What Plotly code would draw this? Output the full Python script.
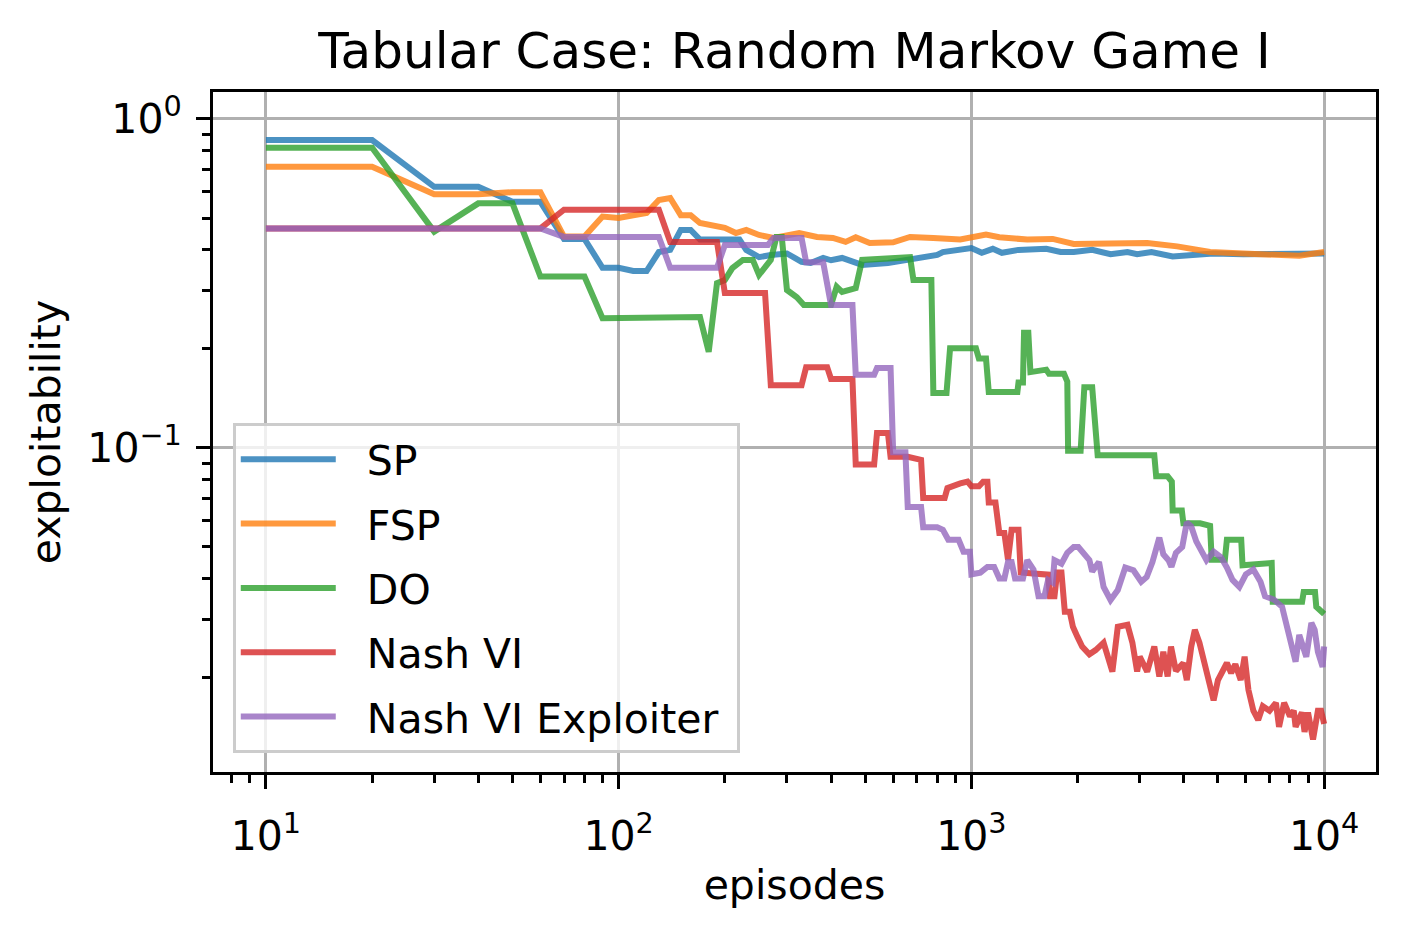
import plotly.graph_objects as go

# episodes / exploitability (log-log)
sp_ep = [10, 20, 30, 40, 50, 60, 70, 80, 90, 100, 110, 120, 130, 140, 150, 160, 170, 190, 220, 230,
         250, 270, 300, 330, 350, 380, 400, 430, 450, 490, 580, 660, 730, 800, 830, 930, 1000, 1070, 1150, 1220,
         1360, 1630, 1790, 1950, 2200, 2480, 2770, 2950, 3240, 3720, 4280, 4850, 5900, 7300, 9100, 10000]
sp_val = [0.863, 0.863, 0.622, 0.622, 0.56, 0.56, 0.432, 0.432, 0.353, 0.353, 0.345, 0.345, 0.394, 0.40, 0.46, 0.46, 0.43, 0.43, 0.43, 0.40,
          0.38, 0.386, 0.39, 0.368, 0.365, 0.378, 0.372, 0.378, 0.372, 0.36, 0.365, 0.372, 0.38, 0.386, 0.394, 0.40, 0.405, 0.392, 0.403, 0.392,
          0.40, 0.403, 0.394, 0.394, 0.40, 0.388, 0.394, 0.388, 0.394, 0.382, 0.386, 0.39, 0.388, 0.39, 0.388, 0.39]

fsp_ep = [10, 20, 30, 40, 50, 60, 70, 80, 90, 100, 110, 120, 130, 140, 150, 160, 170, 185, 200, 215,
          230, 250, 275, 325, 365, 405, 440, 470, 515, 600, 670, 780, 930, 1100, 1200, 1440, 1700, 1950, 2480, 3150,
          3830, 4750, 5900, 7300, 8500, 10000]
fsp_val = [0.716, 0.716, 0.59, 0.59, 0.599, 0.599, 0.439, 0.439, 0.505, 0.50, 0.51, 0.518, 0.567, 0.575, 0.51, 0.51, 0.483, 0.475, 0.467, 0.45,
           0.46, 0.444, 0.435, 0.45, 0.438, 0.435, 0.423, 0.437, 0.42, 0.422, 0.438, 0.435, 0.43, 0.445, 0.437, 0.43, 0.432, 0.417, 0.42, 0.42,
           0.41, 0.394, 0.39, 0.386, 0.384, 0.394]

do_ep = [10, 20, 30, 40, 50, 60, 80, 90, 170, 180, 190, 200, 210, 225, 240, 250, 270, 280, 290, 300,
         320, 335, 400, 415, 430, 470, 490, 670, 685, 770, 780, 850, 870, 1030, 1050, 1100, 1120, 1350, 1360, 1400,
         1410, 1450, 1470, 1630, 1660, 1830, 1870, 1880, 2040, 2090, 2200, 2280, 3300, 3340, 3600, 3700, 3720, 3950, 3990, 4450,
         4750, 4800, 5230, 5300, 5820, 5870, 7100, 7150, 8660, 8750, 9420, 9500, 10000]
do_val = [0.818, 0.818, 0.4545, 0.554, 0.554, 0.332, 0.332, 0.248, 0.25, 0.196, 0.317, 0.324, 0.352, 0.373, 0.373, 0.336, 0.373, 0.438, 0.438, 0.302,
          0.287, 0.272, 0.272, 0.309, 0.298, 0.306, 0.373, 0.38, 0.324, 0.324, 0.147, 0.147, 0.201, 0.201, 0.187, 0.187, 0.148, 0.148, 0.158, 0.158,
          0.224, 0.224, 0.170, 0.173, 0.168, 0.168, 0.159, 0.098, 0.098, 0.153, 0.153, 0.095, 0.095, 0.082, 0.082, 0.079, 0.0645, 0.0645, 0.059, 0.059,
          0.058, 0.0457, 0.0457, 0.0526, 0.0526, 0.044, 0.0447, 0.0341, 0.0341, 0.0365, 0.0365, 0.0329, 0.0313]

nash_ep = [10, 60, 70, 130, 140, 190, 200, 260, 270, 330, 340, 390, 400, 460, 470, 530, 540, 580, 590, 660,
           720, 730, 840, 855, 930, 975, 1000, 1050, 1080, 1110, 1120, 1170, 1200, 1240, 1270, 1300, 1360, 1380, 1650, 1670,
           1720, 1750, 1800, 1840, 1900, 1940, 2000, 2060, 2160, 2250, 2370, 2440, 2510, 2600, 2770, 2860, 2950, 3000, 3150, 3300,
           3410, 3500, 3600, 3680, 3800, 3990, 4080, 4200, 4300, 4430, 4620, 4700, 4860, 5000, 5160, 5300, 5450, 5600, 5800, 5950,
           6100, 6300, 6500, 6700, 7000, 7300, 7450, 7700, 8000, 8200, 8300, 8650, 8800, 9000, 9300, 9600, 9800, 10000]
nash_val = [0.465, 0.465, 0.53, 0.53, 0.423, 0.423, 0.296, 0.296, 0.155, 0.155, 0.176, 0.176, 0.162, 0.162, 0.089, 0.089, 0.111, 0.111, 0.094, 0.094,
            0.092, 0.0705, 0.0705, 0.0755, 0.078, 0.079, 0.0765, 0.0765, 0.079, 0.079, 0.0683, 0.0683, 0.0551, 0.0551, 0.0457, 0.0564, 0.0564, 0.0418, 0.0412, 0.0354,
            0.0354, 0.0418, 0.0418, 0.0318, 0.0318, 0.0286, 0.0266, 0.0249, 0.0236, 0.0243, 0.0256, 0.0226, 0.0209, 0.0286, 0.029, 0.0256, 0.0209, 0.0232, 0.0209, 0.0249,
            0.0202, 0.024, 0.0202, 0.0249, 0.021, 0.0222, 0.0197, 0.0249, 0.028, 0.0256, 0.0217, 0.0197, 0.0171, 0.0197, 0.0209, 0.0222, 0.0207, 0.022, 0.0197, 0.0232,
            0.0184, 0.0159, 0.0149, 0.0164, 0.0159, 0.0168, 0.0142, 0.0168, 0.0153, 0.0159, 0.0142, 0.0157, 0.0137, 0.0157, 0.013, 0.0159, 0.0159, 0.0145]

expl_ep = [10, 60, 70, 130, 140, 190, 200, 265, 275, 330, 340, 380, 400, 460, 470, 530, 540, 590, 600, 650,
           660, 720, 730, 800, 830, 860, 920, 950, 990, 1000, 1060, 1110, 1160, 1200, 1240, 1270, 1300, 1330, 1400, 1440,
           1500, 1550, 1610, 1650, 1700, 1720, 1800, 1870, 1950, 2010, 2160, 2200, 2300, 2370, 2480, 2600, 2730, 2880, 3030, 3140,
           3260, 3410, 3500, 3620, 3690, 3800, 3960, 4080, 4200, 4340, 4500, 4640, 4860, 5100, 5300, 5500, 5750, 6000, 6300, 6600,
           6800, 7200, 7600, 7800, 8100, 8300, 8500, 8700, 8900, 9200, 9400, 9600, 9900, 10000]
expl_val = [0.465, 0.465, 0.438, 0.438, 0.353, 0.353, 0.414, 0.414, 0.435, 0.435, 0.367, 0.367, 0.272, 0.272, 0.167, 0.167, 0.175, 0.175, 0.097, 0.097,
            0.0662, 0.0662, 0.0574, 0.0574, 0.0564, 0.0526, 0.0526, 0.0484, 0.0484, 0.0413, 0.0418, 0.0435, 0.0435, 0.0401, 0.0401, 0.045, 0.045, 0.0401, 0.0401, 0.0456,
            0.0427, 0.0354, 0.0354, 0.0397, 0.039, 0.0456, 0.0445, 0.048, 0.05, 0.05, 0.0456, 0.0421, 0.045, 0.0378, 0.0345, 0.037, 0.0433, 0.0425, 0.0392, 0.0405,
            0.045, 0.0534, 0.0475, 0.0456, 0.0435, 0.048, 0.05, 0.0594, 0.0577, 0.052, 0.0484, 0.0456, 0.0484, 0.0465, 0.0433, 0.0397, 0.0378, 0.0413, 0.0427, 0.0392,
            0.0354, 0.0346, 0.0329, 0.0294, 0.0256, 0.0224, 0.027, 0.0249, 0.0232, 0.0294, 0.028, 0.024, 0.0216, 0.0249]

series = [
    ("SP", sp_ep, sp_val, "#1f77b4"),
    ("FSP", fsp_ep, fsp_val, "#ff7f0e"),
    ("DO", do_ep, do_val, "#2ca02c"),
    ("Nash VI", nash_ep, nash_val, "#d62728"),
    ("Nash VI Exploiter", expl_ep, expl_val, "#9467bd"),
]

FONT = "DejaVu Sans"
PAD = "\u00a0\u00a0"  # gap between legend line sample and its label

fig = go.Figure()
for name, ep, val, color in series:
    fig.add_trace(go.Scatter(x=ep, y=val, mode="lines", name=PAD + name + "\u00a0",
                             legendgroup=name,
                             line=dict(color=color, width=6),
                             opacity=0.8))

axis_common = dict(
    type="log",
    showline=True, linecolor="black", linewidth=3, mirror=True,
    ticks="outside", ticklen=14, tickwidth=3, tickcolor="black",
    showgrid=True, gridcolor="#b0b0b0", gridwidth=3,
    zeroline=False,
    tickfont=dict(family=FONT, size=41, color="black"),
    minor=dict(ticks="outside", ticklen=8, tickwidth=2.5, tickcolor="black",
               dtick="D1", showgrid=False),
)

# page body adds an 8px offset, margins below compensate for it
fig.update_layout(
    width=1405, height=932,
    margin=dict(l=205, r=37, t=84, b=168),
    paper_bgcolor="white", plot_bgcolor="white",
    font=dict(family=FONT, size=41, color="black"),
    title=dict(text="Tabular Case: Random Markov Game I", x=0.5, xref="paper",
               y=1 - 42 / 932, yanchor="middle",
               font=dict(family=FONT, size=50, color="black")),
    xaxis=dict(axis_common, range=[0.85, 4.147],
               tickvals=[10, 100, 1000, 10000],
               ticktext=["10<sup>1</sup>", "10<sup>2</sup>", "10<sup>3</sup>", "10<sup>4</sup>"],
               ticklabelstandoff=12,
               title=dict(text="episodes", standoff=12,
                          font=dict(family=FONT, size=41, color="black"))),
    yaxis=dict(axis_common, range=[-1.985, 0.082],
               tickvals=[0.1, 1],
               ticktext=["10<sup>\u22121</sup>", "10<sup>0</sup>"],
               ticklabelstandoff=6,
               title=dict(text="exploitability", standoff=14,
                          font=dict(family=FONT, size=41, color="black"))),
    legend=dict(x=0.017, y=0.513, xanchor="left", yanchor="top",
                bgcolor="rgba(255,255,255,0.8)", bordercolor="#cccccc", borderwidth=3,
                font=dict(family=FONT, size=41, color="black"),
                itemwidth=95, tracegroupgap=8),
    showlegend=True,
)

fig.write_html("out.html")
